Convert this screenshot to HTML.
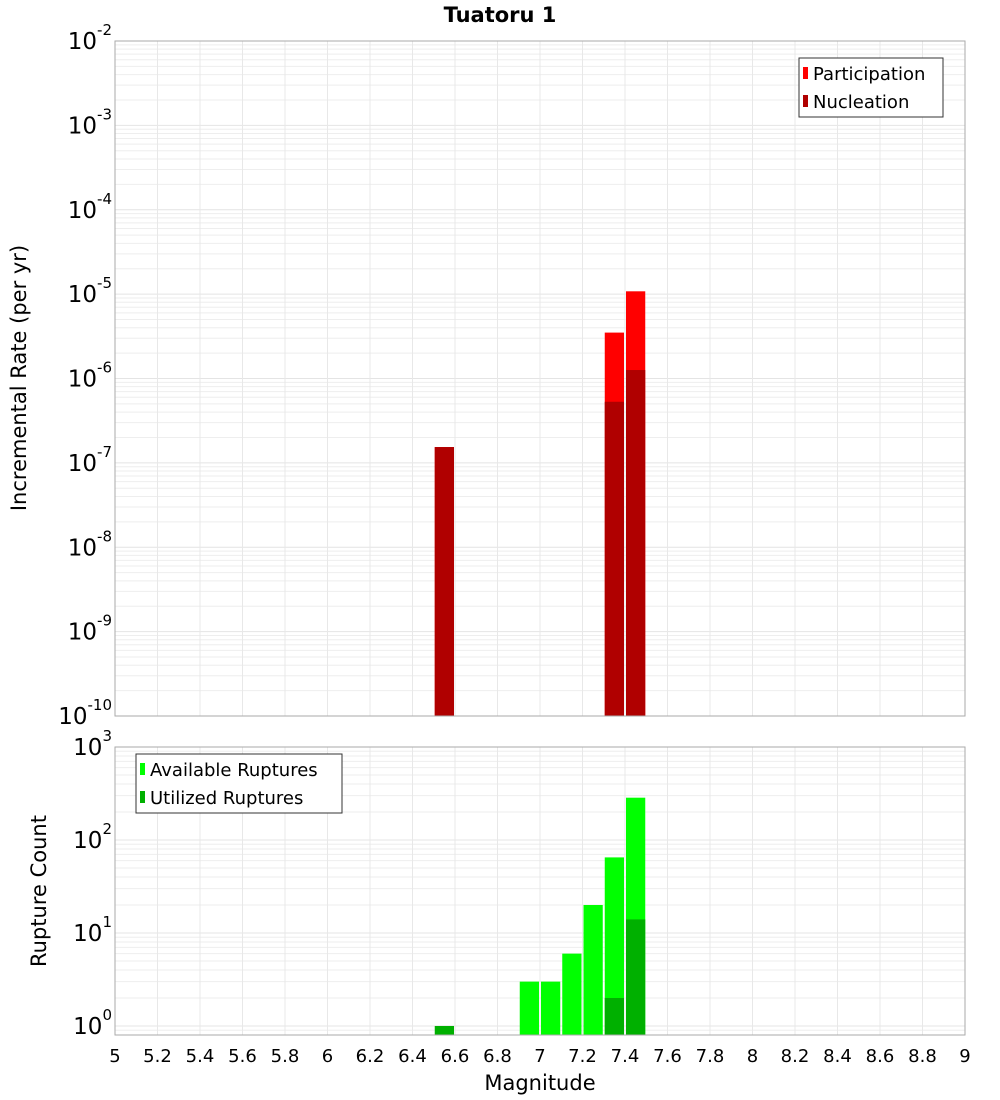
<!DOCTYPE html>
<html><head><meta charset="utf-8"><style>
body{margin:0;background:#fff;}
svg{display:block;font-family:"DejaVu Sans","Liberation Sans",sans-serif;}
</style></head><body>
<svg id="chart" width="1000" height="1100" xmlns="http://www.w3.org/2000/svg">
<text x="500" y="22" text-anchor="middle" font-size="21" font-weight="bold">Tuatoru 1</text>
<g id="top"></g>
<g id="bot"></g>
<text transform="translate(26,378) rotate(-90)" text-anchor="middle" font-size="21">Incremental Rate (per yr)</text>
<text transform="translate(46,891) rotate(-90)" text-anchor="middle" font-size="21">Rupture Count</text>
<text x="540" y="1090" text-anchor="middle" font-size="21">Magnitude</text>
</svg>
<script>
const xTicks=["5","5.2","5.4","5.6","5.8","6","6.2","6.4","6.6","6.8","7","7.2","7.4","7.6","7.8","8","8.2","8.4","8.6","8.8","9"];
const rateBinStart=[6.5,7.3,7.4];
const participation=[1.54e-7,3.5e-6,1.08e-5];
const nucleation=[1.54e-7,5.3e-7,1.26e-6];
const countBinStart=[6.5,6.9,7.0,7.1,7.2,7.3,7.4];
const available=[0,3,3,6,20,65,285];
const utilized=[1,0,0,0,0,2,14];
const topExp=[-10,-9,-8,-7,-6,-5,-4,-3,-2];
const botExp=[0,1,2,3];

const NS="http://www.w3.org/2000/svg";
const L=115,R=965;
const xs=m=>L+(m-5)/4*(R-L);
function mk(p,t,a){const e=document.createElementNS(NS,t);for(const k in a)e.setAttribute(k,a[k]);p.appendChild(e);return e;}
function logAxis(top,bot,lmin,lmax){return v=>bot-(Math.log10(v)-lmin)/(lmax-lmin)*(bot-top);}

function panel(g,top,bot,lmin,lmax,exps,name){
  const ys=logAxis(top,bot,lmin,lmax);
  for(let d=Math.floor(lmin);d<lmax;d++){for(let k=1;k<10;k++){const v=k*Math.pow(10,d);const y=ys(v);if(y<top-0.1||y>bot+0.1)continue;
    const ln=mk(g,'line',{x1:L,x2:R,y1:y,y2:y,stroke:k==1?'#e4e4e4':'#eeeeee','stroke-width':1});
    }}
  xTicks.forEach(t=>{const x=xs(+t);const ln=mk(g,'line',{x1:x,x2:x,y1:top,y2:bot,stroke:'#e8e8e8','stroke-width':1});
    });
  exps.forEach(e=>{const y=ys(Math.pow(10,e));const t=mk(g,'text',{x:L-3,y:y+8,'text-anchor':'end','font-size':23});
    
    const a=mk(t,'tspan',{});a.textContent='10';const b=mk(t,'tspan',{dy:-14,'font-size':15});b.textContent=String(e);});
  return ys;
}
function bar(g,m0,v,ys,bot,fill,name){const x0=xs(m0)+1,x1=xs(m0+0.1);const y=ys(v);
  const r=mk(g,'rect',{x:x0,y:y,width:x1-x0-1,height:bot-y,fill:fill});
  }
function frame(g,top,bot,name){const r=mk(g,'rect',{x:L,y:top,width:R-L,height:bot-top,fill:'none',stroke:'#aaaaaa','stroke-width':1});
  }
function legend(g,x,y,w,items,name){const b=mk(g,'rect',{x:x,y:y,width:w,height:59,fill:'#fff',stroke:'#333','stroke-width':1});
  
  items.forEach((it,i)=>{const yy=y+15+i*28;const s=mk(g,'rect',{x:x+4,y:yy-6,width:5,height:12,fill:it[1]});
    
    const t=mk(g,'text',{x:x+14,y:yy+7,'font-size':18});t.textContent=it[0];
    });}

const gt=document.getElementById('top');
const yt=panel(gt,41,716,-10,-2,topExp,'rate');
rateBinStart.forEach((m,i)=>bar(gt,m,participation[i],yt,716,'#ff0000','participation-bar'));
rateBinStart.forEach((m,i)=>bar(gt,m,nucleation[i],yt,716,'#b00000','nucleation-bar'));
frame(gt,41,716,'rate');
legend(gt,799,58,144,[["Participation","#ff0000"],["Nucleation","#b00000"]],'rate-legend');

const gb=document.getElementById('bot');
const lmin=Math.log10(0.8);
const yb=panel(gb,747,1035,lmin,3,botExp,'count');
countBinStart.forEach((m,i)=>{if(available[i]>0)bar(gb,m,available[i],yb,1035,'#00ff00','available-bar');});
countBinStart.forEach((m,i)=>{if(utilized[i]>0)bar(gb,m,utilized[i],yb,1035,'#00b000','utilized-bar');});
frame(gb,747,1035,'count');
legend(gb,136,754,206,[["Available Ruptures","#00ff00"],["Utilized Ruptures","#00b000"]],'count-legend');

xTicks.forEach(t=>{const e=mk(gb,'text',{x:xs(+t),y:1062,'text-anchor':'middle','font-size':18});e.textContent=t;
  });
</script>
</body></html>
